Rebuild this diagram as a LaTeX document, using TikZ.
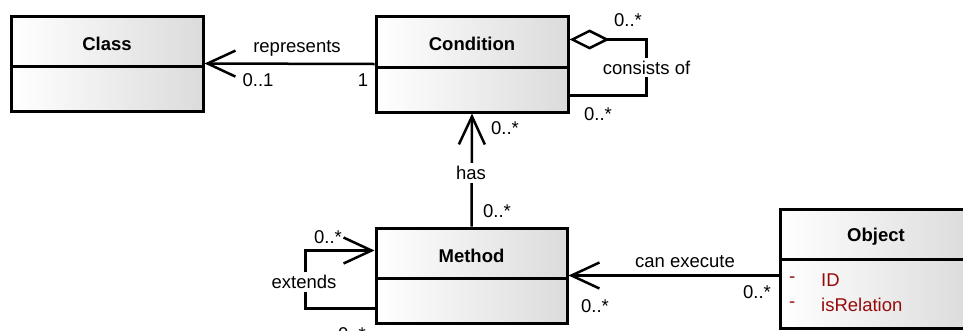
\documentclass[tikz,border=0pt]{standalone}
\usepackage{fontspec}
\setmainfont{Liberation Sans}
\usepackage{tikz}
\usetikzlibrary{arrows.meta}
\usetikzlibrary{positioning}

\definecolor{attrred}{RGB}{150,10,10}

\tikzset{
  umlbox/.style={draw, line width=3pt, left color=white, right color=black!14, minimum width=192pt, inner sep=0pt},
  title/.style={font=\fontsize{18.5}{22}\selectfont\bfseries},
  lbl/.style={font=\fontsize{18.5}{22}\selectfont, inner sep=1pt},
  attr/.style={font=\fontsize{18.5}{22}\selectfont, text=attrred, inner sep=0pt, anchor=west},
  divider/.style={line width=2.6pt},
  assoc/.style={line width=2.5pt},
  navi/.style={assoc, -{Straight Barb[length=28pt, width=26pt, line width=2.5pt]}},
  aggr/.style={assoc, {Diamond[open, length=40pt, width=20pt, line width=2.5pt]}-}
}

\begin{document}
\begin{tikzpicture}[x=1pt, y=-1pt]

	\useasboundingbox (0,0) rectangle (963,330);
	\clip (0,0) rectangle (963,330);

	% classes
	\node[umlbox, minimum height=95pt] (cls) at (107,63.5) {};
	\node[title] (clsT) at ([yshift=-29pt]cls.north) {Class};
	\draw[divider] ([yshift=-52pt]cls.north west) -- ([yshift=-52pt]cls.north east);

	\node[umlbox, minimum height=96pt] (cond) at (472,64) {};
	\node[title] (condT) at ([yshift=-29pt]cond.north) {Condition};
	\draw[divider] ([yshift=-53pt]cond.north west) -- ([yshift=-53pt]cond.north east);

	\node[umlbox, minimum height=95pt, minimum width=191pt] (meth) at (471.5,275.5) {};
	\node[title] (methT) at ([yshift=-29pt]meth.north) {Method};
	\draw[divider] ([yshift=-52pt]meth.north west) -- ([yshift=-52pt]meth.north east);

	\node[umlbox, minimum height=119pt] (obj) at (876,268.5) {};
	\node[title] (objT) at ([yshift=-29pt]obj.north) {Object};
	\draw[divider] ([yshift=-52pt]obj.north west) -- ([yshift=-52pt]obj.north east);
	\node[attr] (objD1) at (789,280) {-};
	\node[attr] (objA1) at (821,280) {ID};
	\node[attr] (objD2) at (789,305) {-};
	\node[attr] (objA2) at (821,305) {isRelation};

	% represents
	\draw[navi] (cond.west) -- (cls.east);
	\node[lbl] (repL) at (297,48) {represents};
	\node[lbl] (repM1) at (258,80) {0..1};
	\node[lbl] (repM2) at (363,80) {1};

	% consists of
	\draw[aggr] ([yshift=-25pt]cond.north east) -- ++(77,0)
		|- node[lbl, pos=0.25, fill=white, inner sep=3pt] (conL) {consists of} ([yshift=18pt]cond.south east);
	\node[lbl] (conM1) at (628,20) {0..*};
	\node[lbl] (conM2) at (598,114) {0..*};

	% has
	\draw[navi] (meth.north) -- (cond.south);
	\node[lbl, fill=white, inner sep=3pt] (hasL) at (471,173) {has};
	\node[lbl] (hasM1) at (505,128) {0..*};
	\node[lbl] (hasM2) at (497,211) {0..*};

	% extends
	\draw[navi] ([yshift=16pt]meth.south west) -- ++(-69,0) |- ([yshift=-24pt]meth.north west);
	\node[lbl, fill=white, inner sep=3pt] (extL) at (304,282) {extends};
	\node[lbl] (extM1) at (328,237) {0..*};
	\node[lbl] (extM2) at (352,334) {0..*};

	% can execute
	\draw[navi] (obj.west |- meth.east) -- (meth.east);
	\node[lbl] (exeL) at (685,262) {can execute};
	\node[lbl] (exeM1) at (595,306) {0..*};
	\node[lbl] (exeM2) at (757,292) {0..*};

\end{tikzpicture}
\end{document}
